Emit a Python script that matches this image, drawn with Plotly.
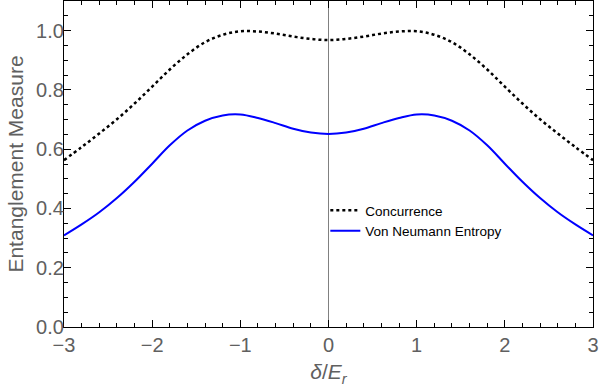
import plotly.graph_objects as go

x_vals = [-3.0, -2.8, -2.6, -2.4, -2.2, -2.0, -1.8, -1.6, -1.4, -1.2, -1.0, -0.8, -0.6, -0.4, -0.2,
          0.0, 0.2, 0.4, 0.6, 0.8, 1.0, 1.2, 1.4, 1.6, 1.8, 2.0, 2.2, 2.4, 2.6, 2.8, 3.0]
concurrence = [0.563, 0.607, 0.653, 0.701, 0.754, 0.811, 0.869, 0.920, 0.961, 0.986, 0.998, 0.997, 0.990, 0.980, 0.972,
               0.968, 0.972, 0.980, 0.990, 0.997, 0.998, 0.986, 0.961, 0.920, 0.869, 0.811, 0.754, 0.701, 0.653, 0.607, 0.563]
von_neumann = [0.309, 0.346, 0.387, 0.435, 0.490, 0.551, 0.613, 0.663, 0.696, 0.714, 0.717, 0.705, 0.688, 0.669, 0.656,
               0.651, 0.656, 0.669, 0.688, 0.705, 0.717, 0.714, 0.696, 0.663, 0.613, 0.551, 0.490, 0.435, 0.387, 0.346, 0.309]

x_ticks = [-3, -2, -1, 0, 1, 2, 3]
x_tick_text = ["\u22123", "\u22122", "\u22121", "0", "1", "2", "3"]
y_ticks = [0.0, 0.2, 0.4, 0.6, 0.8, 1.0]
y_tick_text = ["0.0", "0.2", "0.4", "0.6", "0.8", "1.0"]

fig = go.Figure()
fig.add_trace(go.Scatter(x=x_vals, y=concurrence, mode="lines", name="Concurrence",
                         line=dict(color="black", width=2.5, dash="3px,3px", shape="spline", smoothing=1)))
fig.add_trace(go.Scatter(x=x_vals, y=von_neumann, mode="lines", name="Von Neumann Entropy",
                         line=dict(color="#0000ff", width=2, shape="spline", smoothing=1)))

axis_font = dict(family="Liberation Sans, Arial, sans-serif", size=20, color="#606060")
title_font = dict(family="Liberation Sans, Arial, sans-serif", size=21, color="#606060")
common = dict(showline=True, linecolor="black", linewidth=1.3, mirror="ticks",
              ticks="inside", ticklen=7, tickwidth=1, tickcolor="black",
              showgrid=False, tickfont=axis_font, automargin=False)

fig.update_xaxes(range=[-3, 3], tickvals=x_ticks, ticktext=x_tick_text,
                 zeroline=True, zerolinecolor="#808080", zerolinewidth=1,
                 ticklabelstandoff=0,
                 minor=dict(dtick=0.2, ticks="inside", ticklen=4, tickcolor="black"),
                 title=dict(text="<i>δ</i>/<i>E</i><sub><i>r</i></sub>", font=title_font, standoff=9),
                 **common)
fig.update_yaxes(range=[0, 1.1], tickvals=y_ticks, ticktext=y_tick_text, zeroline=False,
                 ticklabelstandoff=-5,
                 minor=dict(dtick=0.05, ticks="inside", ticklen=4, tickcolor="black"),
                 title=dict(text="Entanglement Measure", font=title_font, standoff=6),
                 **common)

fig.update_layout(width=600, height=387, margin=dict(l=64, r=7, t=1, b=60),
                  plot_bgcolor="white", paper_bgcolor="white",
                  legend=dict(x=0.494, y=0.405, xanchor="left", yanchor="top",
                              bgcolor="rgba(0,0,0,0)", tracegroupgap=0,
                              font=dict(family="Liberation Sans, Arial, sans-serif", size=13.5, color="black")))

fig.write_html("out.html", config={"displayModeBar": False},
               post_script="document.body.style.margin='0';")
